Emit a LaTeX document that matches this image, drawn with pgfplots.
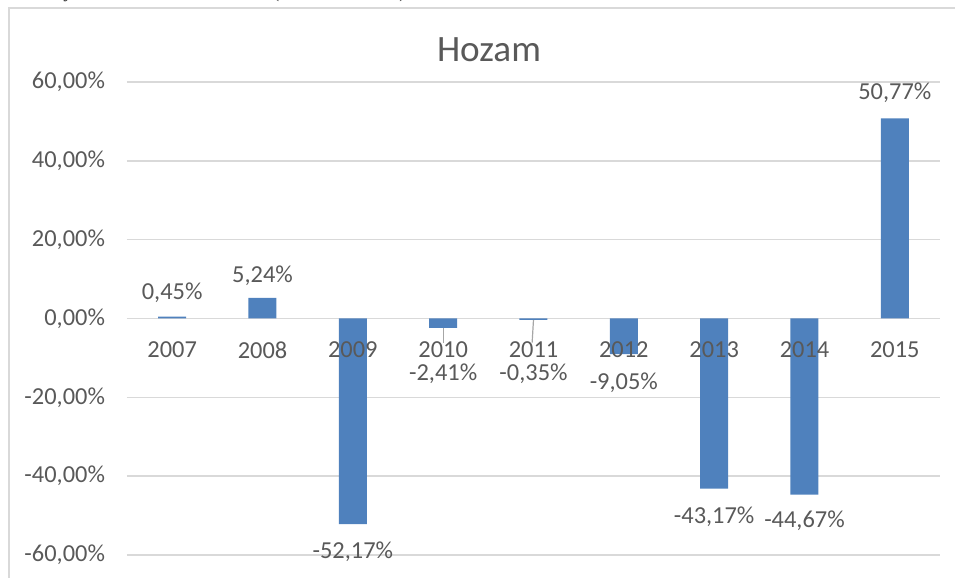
\documentclass[border=0pt]{standalone}
\usepackage{pgfplots}
\usepackage{pgfplotstable}
\pgfplotsset{compat=1.18}
\usepackage{fontspec}
\setmainfont{Carlito}
\newfontfamily\seriffont{Liberation Serif}
\definecolor{barblue}{HTML}{4F81BD}
\definecolor{txt}{HTML}{595959}
\definecolor{gridc}{HTML}{D9D9D9}
\definecolor{lead}{HTML}{A6A6A6}

\pgfplotstableread{
x y off lab yr z
0 0.45 12 0,45\% 2007 0
1 5.24 11 5,24\% 2008 0
2 -52.17 -14 -52,17\% 2009 0
3 -2.41 -22.75 -2,41\% 2010 0
4 -0.35 -26.8 -0,35\% 2011 0
5 -9.05 -14.5 -9,05\% 2012 0
6 -43.17 -14 -43,17\% 2013 0
7 -44.67 -13 -44,67\% 2014 0
8 50.77 13 50,77\% 2015 0
}\hozam

\begin{document}
\begin{tikzpicture}[x=1pt,y=1pt]
\useasboundingbox (0,0) rectangle (477.5,289);
\clip (0,0) rectangle (477.5,289);
\draw[gridc, line width=0.7pt] (4.5,-5) -- (4.5,285) -- (490,285);
\node[font=\seriffont\fontsize{10}{12}\selectfont, text=black!80, anchor=base west, inner sep=0pt] at (-3,290.3) {eredménye az alábbi ábrán látható (nettó hozam \%).};
\node[text=txt, font=\fontsize{18.6}{22}\selectfont] at (244.5,264) {Hozam};
\begin{axis}[
  at={(63.5pt,11.5pt)}, anchor=south west,
  scale only axis, width=406.5pt, height=236.5pt,
  xmin=-0.5, xmax=8.5, ymin=-60, ymax=60,
  axis line style={draw=none},
  ymajorgrids, grid style={gridc, line width=0.7pt},
  major tick length=0pt,
  xtick=\empty,
  ytick={-60,-40,-20,0,20,40,60},
  yticklabels={{-60,00\%},{-40,00\%},{-20,00\%},{0,00\%},{20,00\%},{40,00\%},{60,00\%}},
  /pgf/number format/assume math mode=true,
  ticklabel style={text=txt, font=\fontsize{12.2}{14}\selectfont},
  yticklabel style={anchor=east, xshift=-7.5pt},
  clip=false,
]
\draw[lead, line width=0.6pt] (axis cs:3,-2.41) -- (axis cs:3,-6.1);
\draw[lead, line width=0.6pt] (axis cs:4,-0.35) -- (axis cs:3.985,-6.1);
\addplot[ybar, bar width=14pt, fill=barblue, draw=none,
  point meta=explicit symbolic, nodes near coords,
  visualization depends on={\thisrow{off} \as \off},
  every node near coord/.style={anchor=center, yshift=\off pt, text=txt, font=\fontsize{12.2}{14}\selectfont},
] table[x=x, y=y, meta=lab] {\hozam};
\addplot[draw=none, mark=none,
  point meta=explicit symbolic, nodes near coords,
  every node near coord/.style={anchor=north, yshift=-8pt, text=txt, font=\fontsize{12.2}{14}\selectfont},
] table[x=x, y=z, meta=yr] {\hozam};
\end{axis}
\end{tikzpicture}
\end{document}
